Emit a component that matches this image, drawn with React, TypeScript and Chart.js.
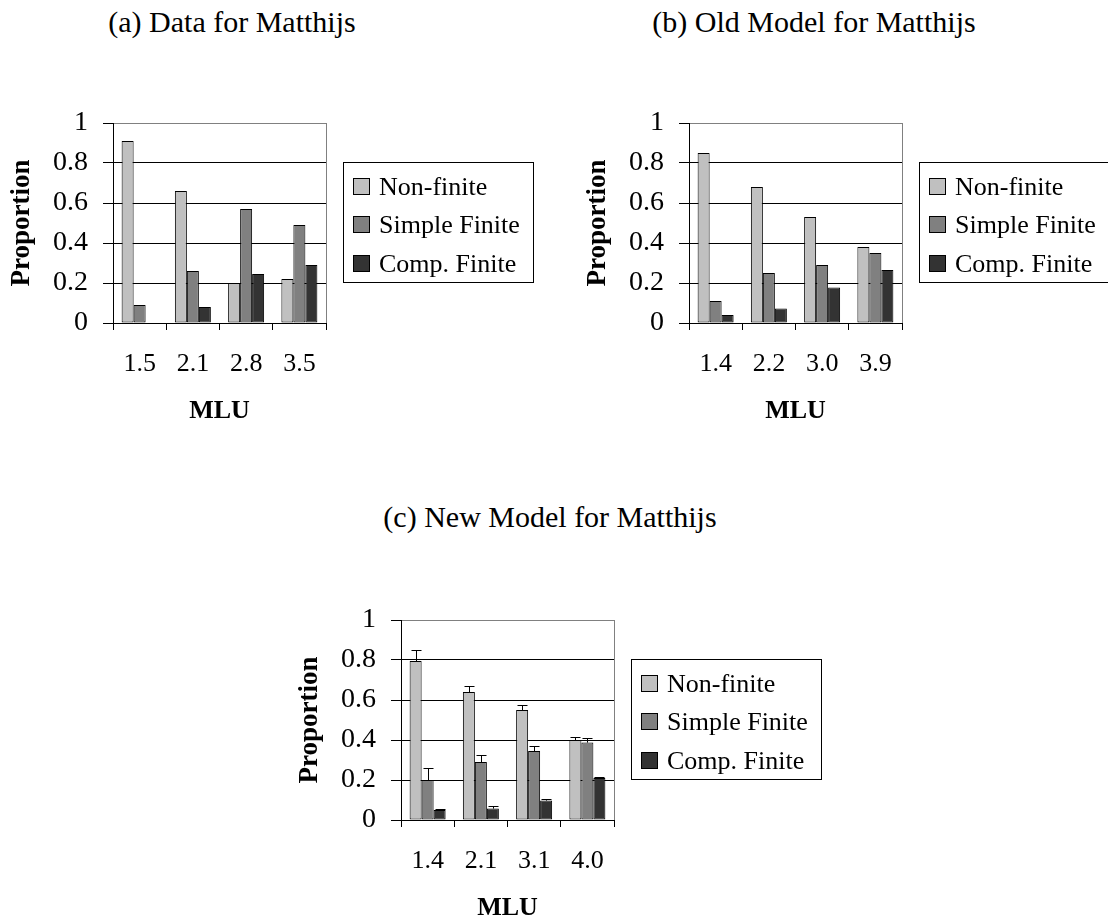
import React, { useEffect, useRef } from 'react';
import { Chart, registerables } from 'chart.js';

Chart.register(...registerables);

const FONT = "'Liberation Serif', 'Times New Roman', serif";

// ---- data ----
const seriesNames = ['Non-finite', 'Simple Finite', 'Comp. Finite'];
const seriesColors = ['#c0c0c0', '#808080', '#333333'];
const yTickValues = [0, 0.2, 0.4, 0.6, 0.8, 1];

const mluA = ['1.5', '2.1', '2.8', '3.5'];
const nonFiniteA = [0.91, 0.66, 0.2, 0.22];
const simpleFiniteA = [0.09, 0.26, 0.57, 0.49];
const compFiniteA = [0, 0.08, 0.245, 0.29];

const mluB = ['1.4', '2.2', '3.0', '3.9'];
const nonFiniteB = [0.85, 0.68, 0.53, 0.38];
const simpleFiniteB = [0.11, 0.25, 0.29, 0.35];
const compFiniteB = [0.04, 0.073, 0.178, 0.265];

const mluC = ['1.4', '2.1', '3.1', '4.0'];
const nonFiniteC = [0.795, 0.64, 0.55, 0.4];
const simpleFiniteC = [0.2, 0.29, 0.345, 0.387];
const compFiniteC = [0.05, 0.057, 0.097, 0.21];
const nonFiniteUpperC = [0.848, 0.67, 0.573, 0.416];
const simpleFiniteUpperC = [0.258, 0.323, 0.372, 0.41];
const compFiniteUpperC = [0.053, 0.069, 0.107, 0.213];

// ---- plugins ----
const frameLines = {
  id: 'frameLines',
  beforeDatasetsDraw(chart: any) {
    const { ctx, chartArea: a } = chart;
    ctx.save();
    ctx.strokeStyle = '#808080';
    ctx.lineWidth = 1;
    const x = Math.round(a.right) + 0.5;
    ctx.beginPath();
    ctx.moveTo(x, a.top);
    ctx.lineTo(x, a.bottom);
    ctx.stroke();
    ctx.restore();
  },
};

const errorBars = {
  id: 'errorBars',
  afterDatasetsDraw(chart: any, _args: any, opts: any) {
    const upper: number[][] | undefined = opts && opts.upper;
    if (!upper) return;
    const { ctx } = chart;
    const y = chart.scales.y;
    ctx.save();
    ctx.strokeStyle = '#000';
    ctx.lineWidth = 1;
    chart.data.datasets.forEach((_ds: any, i: number) => {
      const meta = chart.getDatasetMeta(i);
      meta.data.forEach((el: any, j: number) => {
        const u = upper[i] && upper[i][j];
        if (u == null) return;
        const x = Math.round(el.x) + 0.5;
        const yt = Math.round(y.getPixelForValue(u)) + 0.5;
        ctx.beginPath();
        ctx.moveTo(x, el.y);
        ctx.lineTo(x, yt);
        ctx.moveTo(x - 5, yt);
        ctx.lineTo(x + 5, yt);
        ctx.stroke();
      });
    });
    ctx.restore();
  },
};

const boxLegend = {
  id: 'boxLegend',
  afterDraw(chart: any, _args: any, opts: any) {
    const { ctx, chartArea: a } = chart;
    const lx = Math.round(a.right + opts.dx);
    const ly = Math.round(a.top + opts.dy);
    ctx.save();
    ctx.strokeStyle = '#000';
    ctx.lineWidth = 1;
    ctx.strokeRect(lx + 0.5, ly + 0.5, opts.width, opts.height);
    ctx.font = `${opts.fontSize}px ${FONT}`;
    ctx.textBaseline = 'middle';
    ctx.textAlign = 'left';
    chart.data.datasets.forEach((ds: any, i: number) => {
      const cy = Math.round(ly + opts.firstRow + i * opts.rowGap);
      const bx = lx + opts.boxLeft;
      const s = opts.box;
      const by = cy - Math.round(s / 2);
      ctx.fillStyle = ds.backgroundColor;
      ctx.fillRect(bx, by, s, s);
      ctx.strokeRect(bx + 0.5, by + 0.5, s - 1, s - 1);
      ctx.fillStyle = '#000';
      ctx.fillText(ds.label, lx + opts.textLeft, cy + 1);
    });
    ctx.restore();
  },
};

type PanelProps = {
  left: number;
  top: number;
  labels: string[];
  values: number[][];
  upper?: number[][];
};

const CW = 560;
const CH = 340;

function Panel({ left, top, labels, values, upper }: PanelProps) {
  const ref = useRef<HTMLCanvasElement | null>(null);
  useEffect(() => {
    if (!ref.current) return;
    const chart = new Chart(ref.current, {
      type: 'bar',
      data: {
        labels,
        datasets: values.map((v, i) => ({
          label: seriesNames[i],
          data: v,
          backgroundColor: seriesColors[i],
          borderColor: '#000',
          borderWidth: 1,
          borderSkipped: false,
          categoryPercentage: 0.676,
          barPercentage: 1,
        })),
      },
      options: {
        responsive: false,
        animation: false,
        devicePixelRatio: 1,
        layout: { padding: { left: 0, top: 23, right: CW - 326, bottom: 0 } },
        plugins: {
          legend: { display: false },
          title: { display: false },
          tooltip: { enabled: false },
          errorBars: { upper },
          boxLegend: {
            dx: 17,
            dy: 39,
            width: 190,
            height: 120,
            fontSize: 26,
            box: 17,
            boxLeft: 10,
            textLeft: 36,
            firstRow: 24.5,
            rowGap: 38.7,
          },
        } as any,
        scales: {
          x: {
            type: 'category',
            offset: true,
            afterFit: (s: any) => {
              s.height = 117;
              s.paddingLeft = 0;
              s.paddingRight = 0;
            },
            grid: {
              offset: true,
              drawOnChartArea: false,
              drawTicks: true,
              tickLength: 7,
              tickColor: '#000',
            },
            border: { display: true, color: '#000', width: 1 },
            ticks: {
              color: '#000',
              padding: 19,
              maxRotation: 0,
              font: { family: FONT, size: 26 },
            },
            title: {
              display: true,
              text: 'MLU',
              color: '#000',
              font: { family: FONT, size: 26, weight: 'bold' },
              padding: { top: 0, bottom: 13 },
            },
          },
          y: {
            min: 0,
            max: 1,
            afterFit: (s: any) => {
              s.width = 113;
              s.paddingTop = 0;
              s.paddingBottom = 0;
            },
            afterBuildTicks: (s: any) => {
              s.ticks = yTickValues.map((v) => ({ value: v }));
            },
            grid: {
              color: (c: any) => (c.tick && c.tick.value === 1 ? '#808080' : '#000'),
              tickColor: '#000',
              tickLength: 10,
              lineWidth: 1,
            },
            border: { display: true, color: '#000', width: 1 },
            ticks: {
              color: '#000',
              padding: 15,
              font: { family: FONT, size: 28 },
              callback: (v: any) => String(Math.round(Number(v) * 10) / 10),
            },
            title: {
              display: true,
              text: 'Proportion',
              color: '#000',
              font: { family: FONT, size: 27, weight: 'bold' },
              padding: { top: 6, bottom: 0 },
            },
          },
        },
      } as any,
      plugins: [frameLines, errorBars, boxLegend],
    });
    return () => chart.destroy();
  }, []);
  return (
    <canvas
      ref={ref}
      width={CW}
      height={CH}
      style={{ position: 'absolute', left, top, width: CW, height: CH, display: 'block' }}
    />
  );
}

function Title({ text, cx, top }: { text: string; cx: number; top: number }) {
  return (
    <div
      style={{
        position: 'absolute',
        left: cx - 300,
        top,
        width: 600,
        textAlign: 'center',
        fontFamily: FONT,
        fontSize: 30,
        lineHeight: '36px',
        color: '#000',
        whiteSpace: 'nowrap',
      }}
    >
      {text}
    </div>
  );
}

export default function App() {
  return (
    <div
      style={{
        position: 'absolute',
        left: 0,
        top: 0,
        width: 1108,
        height: 924,
        overflow: 'hidden',
        background: '#fff',
      }}
    >
      <Title text="(a) Data for Matthijs" cx={232} top={4} />
      <Title text="(b) Old Model for Matthijs" cx={814} top={4} />
      <Title text="(c) New Model for Matthijs" cx={550} top={499} />
      <Panel left={0} top={100} labels={mluA} values={[nonFiniteA, simpleFiniteA, compFiniteA]} />
      <Panel left={576} top={100} labels={mluB} values={[nonFiniteB, simpleFiniteB, compFiniteB]} />
      <Panel
        left={288}
        top={597}
        labels={mluC}
        values={[nonFiniteC, simpleFiniteC, compFiniteC]}
        upper={[nonFiniteUpperC, simpleFiniteUpperC, compFiniteUpperC]}
      />
    </div>
  );
}
